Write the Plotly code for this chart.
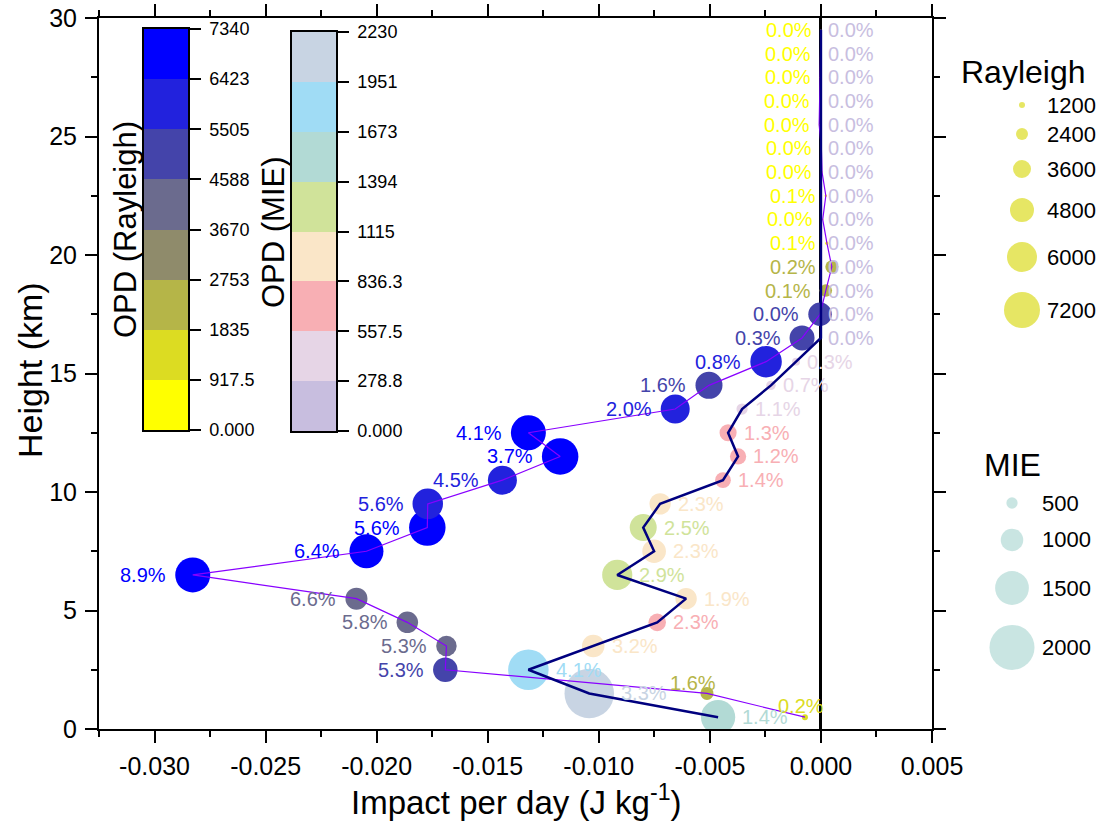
import plotly.graph_objects as go

W, H = 1107, 831
FONT = "Liberation Sans, Arial, sans-serif"

# ---------------- data ----------------
heights = [0.5 + i for i in range(30)]

ray_impact = [-0.00072, -0.00513, -0.01691, -0.01686, -0.01862, -0.02091, -0.02828, -0.02046,
              -0.01772, -0.01770, -0.01434, -0.01174, -0.01317, -0.00656, -0.00504, -0.00247,
              -0.00085, -0.00004, 0.00022, 0.00049, 0.00027, 0.00008, 0.00022, 0.00005,
              0.00002, -0.00008, -0.00006, -0.00004, -0.00002, 0.0]
ray_opd = [1200, 2600, 4900, 4100, 4300, 4400, 7000, 6800, 7300, 6100, 5800, 7300, 7000, 5800,
           5400, 6300, 5000, 4700, 2500, 2600, 700, 300, 500, 300, 200, 200, 150, 150, 100, 100]
ray_pct = ["0.2%", "1.6%", "5.3%", "5.3%", "5.8%", "6.6%", "8.9%", "6.4%", "5.6%", "5.6%",
           "4.5%", "3.7%", "4.1%", "2.0%", "1.6%", "0.8%", "0.3%", "0.0%", "0.1%", "0.2%",
           "0.1%", "0.0%", "0.1%", "0.0%", "0.0%", "0.0%", "0.0%", "0.0%", "0.0%", "0.0%"]

mie_impact = [-0.00463, -0.01043, -0.01317, -0.01025, -0.00737, -0.00607, -0.00917, -0.00751,
              -0.00800, -0.00724, -0.00441, -0.00373, -0.00418, -0.00355, -0.00225, -0.00112,
              0.0, 0.0, 0.0, 0.0, 0.0, 0.0, 0.0, 0.0, 0.0, 0.0, 0.0, 0.0, 0.0, 0.0]
mie_opd = [1520, 2200, 1800, 1000, 780, 950, 1340, 1050, 1200, 950, 700, 720, 760, 500, 420,
           350, 40, 30, 30, 30, 30, 30, 30, 30, 30, 30, 30, 30, 30, 30]
mie_pct = ["1.4%", "3.3%", "4.1%", "3.2%", "2.3%", "1.9%", "2.9%", "2.3%", "2.5%", "2.3%",
           "1.4%", "1.2%", "1.3%", "1.1%", "0.7%", "0.3%", "0.0%", "0.0%", "0.0%", "0.0%",
           "0.0%", "0.0%", "0.0%", "0.0%", "0.0%", "0.0%", "0.0%", "0.0%", "0.0%", "0.0%"]

ray_edges = [0, 917.5, 1835, 2753, 3670, 4588, 5505, 6423, 7340]
ray_ticktext = ["0.000", "917.5", "1835", "2753", "3670", "4588", "5505", "6423", "7340"]
mie_edges = [0, 278.8, 557.5, 836.3, 1115, 1394, 1673, 1951, 2230]
mie_ticktext = ["0.000", "278.8", "557.5", "836.3", "1115", "1394", "1673", "1951", "2230"]

ray_legend_vals = [1200, 2400, 3600, 4800, 6000, 7200]
mie_legend_vals = [500, 1000, 1500, 2000]

x_tickvals = [-0.030, -0.025, -0.020, -0.015, -0.010, -0.005, 0.000, 0.005]
x_ticktext = ["-0.030", "-0.025", "-0.020", "-0.015", "-0.010", "-0.005", "0.000", "0.005"]

# ---------------- styles ----------------
ray_colors = ["#FFFF00", "#DCDC22", "#B5B548", "#8F8B6B", "#6B6B8E", "#4444AA", "#2222DD", "#0000FF"]
mie_colors = ["#C8BEDF", "#E6D5E6", "#F8AFB4", "#FAE6C8", "#D0E39A", "#B2DAD5", "#A0DCF5", "#C8D4E3"]
RAY_K = 0.005    # px diameter per OPD unit
MIE_K = 0.0225


def discrete_scale(colors):
    n = len(colors)
    sc = []
    for i, c in enumerate(colors):
        sc.append([i / n, c])
        sc.append([(i + 1) / n, c])
    return sc


def bin_color(v, edges, colors):
    for i in range(len(colors)):
        if v < edges[i + 1]:
            return colors[i]
    return colors[-1]


# plot-area geometry (pixels)
PL, PR, PT, PB = 99, 932, 18, 729
# colour-bar boxes (left, right, top, bottom) in pixels
RAY_BOX = (144, 188, 29, 430)
MIE_BOX = (292, 336, 32, 431)

fig = go.Figure()

fig.add_trace(go.Scatter(
    x=ray_impact, y=heights, mode="markers", showlegend=False, hoverinfo="skip",
    marker=dict(size=[v * RAY_K for v in ray_opd], color=ray_opd, cmin=0, cmax=ray_edges[-1],
                colorscale=discrete_scale(ray_colors), line=dict(width=0), opacity=1, showscale=False),
))
fig.add_trace(go.Scatter(
    x=mie_impact, y=heights, mode="markers", showlegend=False, hoverinfo="skip",
    marker=dict(size=[v * MIE_K for v in mie_opd], color=mie_opd, cmin=0, cmax=mie_edges[-1],
                colorscale=discrete_scale(mie_colors), line=dict(width=0), opacity=1, showscale=False),
))
fig.add_trace(go.Scatter(x=ray_impact, y=heights, mode="lines", showlegend=False, hoverinfo="skip",
                         line=dict(color="#8800FF", width=1.2)))
fig.add_trace(go.Scatter(x=mie_impact, y=heights, mode="lines", showlegend=False, hoverinfo="skip",
                         line=dict(color="#00007F", width=2.5)))

# colour bars drawn as heatmaps on their own axes
for edges, colors, xa, ya in [(ray_edges, ray_colors, "x3", "y3"), (mie_edges, mie_colors, "x4", "y4")]:
    mids = [(a + b) / 2 for a, b in zip(edges[:-1], edges[1:])]
    fig.add_trace(go.Heatmap(x=[-0.5, 0.5], y=edges, z=[[m] for m in mids], zmin=0, zmax=edges[-1],
                             colorscale=discrete_scale(colors), showscale=False, hoverinfo="skip",
                             xaxis=xa, yaxis=ya))

annotations = []
# percentage labels
ray_special = {0: dict(xanchor="center", xshift=-4, yshift=11),
               1: dict(xanchor="center", xshift=-14, yshift=10)}
for i, (xv, yv, opd, t) in enumerate(zip(ray_impact, heights, ray_opd, ray_pct)):
    d = opd * RAY_K
    st = ray_special.get(i, dict(xanchor="right", xshift=-(d / 2 + 7), yshift=0))
    annotations.append(dict(x=xv, y=yv, xref="x", yref="y", text=t, showarrow=False,
                            font=dict(size=20, color=bin_color(opd, ray_edges, ray_colors), family=FONT),
                            yanchor="middle", **st))
for i, (xv, yv, opd, t) in enumerate(zip(mie_impact, heights, mie_opd, mie_pct)):
    d = opd * MIE_K
    annotations.append(dict(x=xv, y=yv, xref="x", yref="y", text=t, showarrow=False,
                            font=dict(size=20, color=bin_color(opd, mie_edges, mie_colors), family=FONT),
                            xanchor="left", xshift=d / 2 + 5, yanchor="middle"))

# size legends (drawn on a pixel overlay axis)
def legend_positions(vals, k, y0, gap=20):
    ys = [y0]
    for a, b in zip(vals[:-1], vals[1:]):
        ys.append(ys[-1] + (a * k + b * k) / 2 + gap)
    return ys

ray_ly = legend_positions(ray_legend_vals, RAY_K, 105)
mie_ly = legend_positions(mie_legend_vals, MIE_K, 503)
fig.add_trace(go.Scatter(x=[1022] * len(ray_ly), y=ray_ly, xaxis="x2", yaxis="y2", mode="markers",
                         showlegend=False, hoverinfo="skip",
                         marker=dict(size=[v * RAY_K for v in ray_legend_vals], color="#DCDC22", line=dict(width=0))))
fig.add_trace(go.Scatter(x=[1012] * len(mie_ly), y=mie_ly, xaxis="x2", yaxis="y2", mode="markers",
                         showlegend=False, hoverinfo="skip",
                         marker=dict(size=[v * MIE_K for v in mie_legend_vals], color="#B2DAD5", line=dict(width=0))))
for v, yy in zip(ray_legend_vals, ray_ly):
    annotations.append(dict(x=1045, y=yy, xref="x2", yref="y2", text=str(v), showarrow=False,
                            xanchor="left", yanchor="middle", font=dict(size=22, color="black", family=FONT)))
for v, yy in zip(mie_legend_vals, mie_ly):
    annotations.append(dict(x=1040, y=yy, xref="x2", yref="y2", text=str(v), showarrow=False,
                            xanchor="left", yanchor="middle", font=dict(size=22, color="black", family=FONT)))
annotations.append(dict(x=1023, y=72, xref="x2", yref="y2", text="Rayleigh", showarrow=False,
                        xanchor="center", yanchor="middle", font=dict(size=32, color="black", family=FONT)))
annotations.append(dict(x=1012, y=465, xref="x2", yref="y2", text="MIE", showarrow=False,
                        xanchor="center", yanchor="middle", font=dict(size=32, color="black", family=FONT)))

# colorbar titles
annotations.append(dict(x=125, y=230, xref="x2", yref="y2", text="OPD (Rayleigh)", showarrow=False,
                        textangle=-90, xanchor="center", yanchor="middle",
                        font=dict(size=31, color="black", family=FONT)))
annotations.append(dict(x=273, y=232, xref="x2", yref="y2", text="OPD (MIE)", showarrow=False,
                        textangle=-90, xanchor="center", yanchor="middle",
                        font=dict(size=31, color="black", family=FONT)))
# axis titles
annotations.append(dict(x=516, y=800, xref="x2", yref="y2", text="Impact per day (J kg<sup>-1</sup>)",
                        showarrow=False, xanchor="center", yanchor="middle",
                        font=dict(size=33, color="black", family=FONT)))
annotations.append(dict(x=30, y=370, xref="x2", yref="y2", text="Height (km)", showarrow=False,
                        textangle=-90, xanchor="center", yanchor="middle",
                        font=dict(size=34, color="black", family=FONT)))

axis_common = dict(showline=True, linecolor="black", linewidth=2, mirror="allticks", showgrid=False,
                   ticks="outside", ticklen=12, tickwidth=2, tickcolor="black", automargin=False,
                   tickfont=dict(size=25, color="black", family=FONT))


def bar_axes(box, edges, ticktext, anchor_x, anchor_y):
    l, r, t, b = box
    xa = dict(domain=[l / W, r / W], range=[-0.5, 0.5], showticklabels=False, ticks="",
              showline=True, mirror=True, linecolor="black", linewidth=1.5, showgrid=False,
              zeroline=False, anchor=anchor_y, fixedrange=True, automargin=False)
    ya = dict(domain=[1 - b / H, 1 - t / H], range=[edges[0], edges[-1]], side="right",
              tickmode="array", tickvals=edges, ticktext=ticktext, ticks="outside", ticklen=11,
              tickwidth=1.5, tickcolor="black", ticklabelstandoff=5,
              tickfont=dict(size=18, color="black", family=FONT),
              showline=True, mirror=True, linecolor="black", linewidth=1.5, showgrid=False,
              zeroline=False, anchor=anchor_x, fixedrange=True, automargin=False)
    return xa, ya


x3, y3 = bar_axes(RAY_BOX, ray_edges, ray_ticktext, "x3", "y3")
x4, y4 = bar_axes(MIE_BOX, mie_edges, mie_ticktext, "x4", "y4")

fig.update_layout(
    width=W, height=H, margin=dict(l=0, r=0, t=0, b=0, autoexpand=False),
    paper_bgcolor="white", plot_bgcolor="rgba(0,0,0,0)",
    font=dict(family=FONT, color="black"),
    xaxis=dict(domain=[PL / W, PR / W], range=[-0.0325, 0.005], tickmode="array",
               tickvals=x_tickvals, ticktext=x_ticktext,
               minor=dict(ticks="outside", ticklen=6, tickwidth=2, tickcolor="black", dtick=0.0025,
                          tick0=0, showgrid=False),
               zeroline=True, zerolinecolor="black", zerolinewidth=2.5, ticklabelstandoff=2,
               **axis_common),
    yaxis=dict(domain=[1 - PB / H, 1 - PT / H], range=[0, 30], tickmode="linear", tick0=0, dtick=5,
               minor=dict(ticks="outside", ticklen=6, tickwidth=2, tickcolor="black", dtick=2.5,
                          showgrid=False),
               zeroline=False, ticklabelstandoff=3, **axis_common),
    xaxis2=dict(domain=[0, 1], range=[0, W], visible=False, anchor="y2", fixedrange=True, automargin=False),
    yaxis2=dict(domain=[0, 1], range=[H, 0], visible=False, anchor="x2", fixedrange=True, automargin=False),
    xaxis3=x3, yaxis3=y3, xaxis4=x4, yaxis4=y4,
    annotations=annotations,
)

fig.write_html("out.html")
